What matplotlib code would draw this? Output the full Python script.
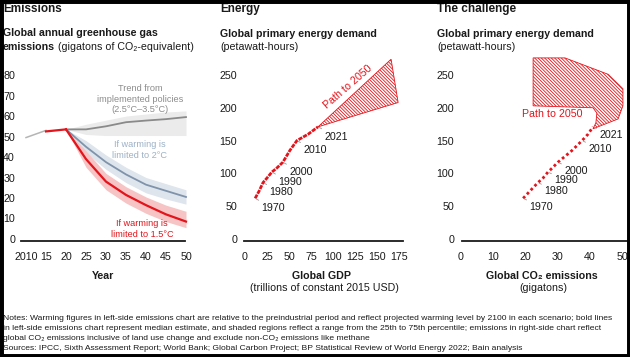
import numpy as np
import matplotlib
matplotlib.use('Agg')
import matplotlib.pyplot as plt
from matplotlib import font_manager as fm
from matplotlib.patches import Polygon, Rectangle

# убираем Liberation Sans Narrow, чтобы не подменял обычный шрифт
fm.fontManager.ttflist = [f for f in fm.fontManager.ttflist if 'Narrow' not in f.name and 'Narrow' not in f.fname]
plt.rcParams['font.family'] = ['Liberation Sans', 'DejaVu Sans']
plt.rcParams['hatch.linewidth'] = 0.6

RED = '#e3141b'
GREY_TXT = '#8c8c8c'
BLUE = '#7f93ab'
BLUE_TXT = '#9cb0c6'
DARK = '#1a1a1a'

# --- данные: выбросы парниковых газов (гигатонны CO2-экв.)
hist_years = [2010, 2015]
hist_vals = [49.5, 53]
common_years = [2015, 2020]
common_vals = [52.5, 53.5]

scen_years = [2020, 2025, 2030, 2035, 2040, 2045, 2050]
policy_med = [53.5, 53.5, 55, 57, 57.8, 58.5, 59.5]
policy_low = [53.5, 51, 50.5, 50.5, 50.5, 50.5, 50.5]
policy_high = [53.5, 56, 58, 60, 61, 62, 62.5]
deg2_med = [53.5, 45, 37.5, 31.5, 26.5, 23.5, 20.5]
deg2_low = [53.5, 42, 34, 27.5, 22.5, 19.5, 17]
deg2_high = [53.5, 48, 41, 35, 30, 27, 24]
deg15_med = [53.5, 39, 28, 21.5, 16.5, 12, 8.5]
deg15_low = [53.5, 35, 24, 17.5, 12.5, 8.5, 5.5]
deg15_high = [53.5, 43, 32, 25.5, 20.5, 16.5, 13.5]

# --- данные: энергия, ВВП, выбросы CO2
hist_y = [1970, 1975, 1980, 1985, 1990, 1995, 2000, 2005, 2010, 2015, 2021]
energy = [62, 73, 86, 93, 102, 108, 117, 135, 150, 160, 171]
gdp = [11.5, 16, 20.5, 25, 30.5, 36, 43, 51, 59, 72, 83]
co2 = [19.3, 21.4, 23.9, 25.5, 27, 28.3, 30.1, 34.5, 37.6, 39.5, 41]
label_years = [1970, 1980, 1990, 2000, 2010, 2021]

energy_path_gdp = [83, 166, 174]
energy_path_e = [171, 274, 208]
chal_path_co2 = [22.4, 32.3, 45.7, 50.3, 50.3, 48.8, 41, 41.9, 42.2, 41, 22.4]
chal_path_e = [276, 276, 251, 229, 203, 183, 168, 177, 192, 200, 203]

W, H = 630, 357
fig = plt.figure(figsize=(W / 100, H / 100), dpi=100, facecolor='white')

FS_TITLE = 8.5
FS_SUB = 7.7
FS_TICK = 7.7
FS_NOTE = 6.1
FS_ANN = 6.6


def px_box(l, t, r, b):
    return [l / W, 1 - b / H, (r - l) / W, (b - t) / H]


def ftext(x, y, s, **kw):
    return fig.text(x / W, 1 - y / H, s, va='center', **kw)


def style_axes(ax, ypad):
    for sp in ax.spines.values():
        sp.set_visible(False)
    ax.tick_params(length=0, labelsize=FS_TICK, colors=DARK)
    ax.tick_params(axis='x', pad=8)
    ax.tick_params(axis='y', pad=ypad)
    ax.patch.set_alpha(0)


HATCH = '\\' * 10

# ---------- Emissions
ax1 = fig.add_axes(px_box(20, 71, 190, 241))
ax1.set_xlim(2008.5, 2051)
ax1.set_ylim(-1, 82)
ax1.fill_between(scen_years, policy_low, policy_high, color='#ebebeb', lw=0)
ax1.fill_between(scen_years, deg2_low, deg2_high, color='#dfe5ec', lw=0)
ax1.fill_between(scen_years, deg15_low, deg15_high, color='#f6c4c4', lw=0)
ax1.plot(hist_years, hist_vals, color='#b5b5b5', lw=1.1)
ax1.plot(scen_years, policy_med, color='#8a8a8a', lw=1.3)
ax1.plot(scen_years, deg2_med, color=BLUE, lw=1.3)
ax1.plot(common_years, common_vals, color=RED, lw=1.6)
ax1.plot(scen_years, deg15_med, color=RED, lw=1.6)
ax1.plot([2008.75, 2049.75], [-1, -1], color=DARK, lw=1.3, clip_on=False)
ax1.set_xticks(range(2010, 2051, 5))
ax1.set_xticklabels(['2010', '15', '20', '25', '30', '35', '40', '45', '50'])
ax1.set_yticks(range(0, 81, 10))
style_axes(ax1, 3.6)
ax1.text(2038.5, 68.3, 'Trend from\nimplemented policies\n(2.5°C–3.5°C)', color=GREY_TXT,
         fontsize=FS_ANN, ha='center', va='center', linespacing=1.2)
ax1.text(2038.5, 43.4, 'If warming is\nlimited to 2°C', color=BLUE_TXT,
         fontsize=FS_ANN, ha='center', va='center', linespacing=1.2)
ax1.text(2039, 4.9, 'If warming is\nlimited to 1.5°C', color=RED,
         fontsize=FS_ANN, ha='center', va='center', linespacing=1.2)

# ---------- Energy
ax2 = fig.add_axes(px_box(240, 52, 405, 241))
ax2.set_xlim(-5.68, 181.8)
ax2.set_ylim(-3, 285)
ax2.add_patch(Polygon(list(zip(energy_path_gdp, energy_path_e)), closed=True,
                      facecolor='none', edgecolor=RED, hatch=HATCH, lw=0.6))
ax2.plot(gdp, energy, color=RED, lw=2.0, ls=(0, (1.5, 0.4)))
ax2.plot([-1.1, 179.5], [-3, -3], color=DARK, lw=1.3, clip_on=False)
ax2.set_xticks(range(0, 176, 25))
ax2.set_yticks(range(0, 251, 50))
style_axes(ax2, 2)
for yr in label_years:
    i = hist_y.index(yr)
    ax2.annotate(str(yr), (gdp[i], energy[i]), xytext=(4.5, -7), textcoords='offset points',
                 fontsize=FS_TICK, color=DARK, ha='left', va='center',
                 arrowprops=dict(arrowstyle='-', color='#999999', lw=0.6, shrinkA=0, shrinkB=1))
ax2.text(117, 232, 'Path to 2050', color=RED, fontsize=FS_SUB, rotation=41,
         ha='center', va='center', rotation_mode='anchor')

# ---------- The challenge
ax3 = fig.add_axes(px_box(457, 52, 640, 241))
ax3.set_xlim(-1.24, 55.6)
ax3.set_ylim(-3, 285)
ax3.add_patch(Polygon(list(zip(chal_path_co2, chal_path_e)), closed=True,
                      facecolor='none', edgecolor=RED, hatch=HATCH, lw=0.6))
ax3.plot(co2, energy, color=RED, lw=2.0, ls=(0, (1.0, 1.0)))
ax3.plot([0.3, 60], [-3, -3], color=DARK, lw=1.3, clip_on=False)
ax3.set_xticks(range(0, 51, 10))
ax3.set_yticks(range(0, 251, 50))
style_axes(ax3, 2)
for yr in label_years:
    i = hist_y.index(yr)
    ax3.annotate(str(yr), (co2[i], energy[i]), xytext=(4.5, -6), textcoords='offset points',
                 fontsize=FS_TICK, color=DARK, ha='left', va='center',
                 arrowprops=dict(arrowstyle='-', color='#999999', lw=0.6, shrinkA=0, shrinkB=1))
ax3.text(28.3, 190.5, 'Path to 2050', color=RED, fontsize=FS_SUB, ha='center', va='center')

# ---------- заголовки
ftext(3, 9, 'Emissions', fontsize=FS_TITLE, weight='bold', color=DARK)
ftext(220, 9, 'Energy', fontsize=FS_TITLE, weight='bold', color=DARK)
ftext(437, 9, 'The challenge', fontsize=FS_TITLE, weight='bold', color=DARK)

ftext(3, 33, 'Global annual greenhouse gas', fontsize=FS_SUB, weight='bold', color=DARK)
t = ftext(3, 47, 'emissions', fontsize=FS_SUB, weight='bold', color=DARK)
ax1.annotate(' (gigatons of CO₂-equivalent)', xy=(1, 0.5), xycoords=t, fontsize=FS_SUB,
             color=DARK, ha='left', va='center')
ftext(220, 34, 'Global primary energy demand', fontsize=FS_SUB, weight='bold', color=DARK)
ftext(220, 47, '(petawatt-hours)', fontsize=FS_SUB, color=DARK)
ftext(437, 34, 'Global primary energy demand', fontsize=FS_SUB, weight='bold', color=DARK)
ftext(437, 47, '(petawatt-hours)', fontsize=FS_SUB, color=DARK)

ftext(103, 276, 'Year', fontsize=FS_SUB, weight='bold', color=DARK, ha='center')
ftext(322, 276, 'Global GDP', fontsize=FS_SUB, weight='bold', color=DARK, ha='center')
ftext(324, 288, '(trillions of constant 2015 USD)', fontsize=FS_SUB, color=DARK, ha='center')
ftext(542, 276, 'Global CO₂ emissions', fontsize=FS_SUB, weight='bold', color=DARK, ha='center')
ftext(543, 288, '(gigatons)', fontsize=FS_SUB, color=DARK, ha='center')

notes = [
    'Notes: Warming figures in left-side emissions chart are relative to the preindustrial period and reflect projected warming level by 2100 in each scenario; bold lines',
    'in left-side emissions chart represent median estimate, and shaded regions reflect a range from the 25th to 75th percentile; emissions in right-side chart reflect',
    'global CO₂ emissions inclusive of land use change and exclude non-CO₂ emissions like methane',
    'Sources: IPCC, Sixth Assessment Report; World Bank; Global Carbon Project; BP Statistical Review of World Energy 2022; Bain analysis',
]
for k, line in enumerate(notes):
    ftext(3, 318 + 10 * k, line, fontsize=FS_NOTE, color=DARK)

# чёрная рамка
fig.add_artist(Rectangle((0, 0), 1, 1, transform=fig.transFigure, fill=False,
                         ec='black', lw=5, zorder=100))

fig.savefig('out.png', dpi=100, facecolor='white')
